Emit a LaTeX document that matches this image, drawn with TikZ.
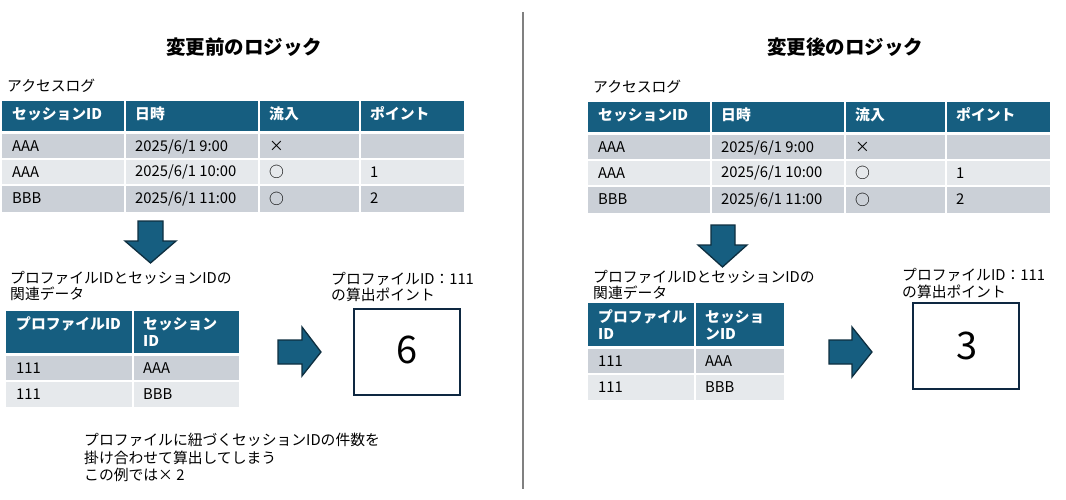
\documentclass[tikz,border=0pt]{standalone}
\usepackage{fontspec}
\setmainfont{Noto Sans CJK JP}
\definecolor{hdrblue}{HTML}{165E80}
\definecolor{rowdark}{HTML}{CBD0D7}
\definecolor{rowlight}{HTML}{E6E9EC}
\definecolor{arrowedge}{HTML}{0E2F40}
\definecolor{boxedge}{HTML}{0E2841}
\definecolor{divgray}{HTML}{808080}
\newcommand{\accesslogtable}{%
  \fill[hdrblue] (0,101) rectangle (462,131);
  \fill[rowdark] (0,134) rectangle (462,159);
  \fill[rowlight] (0,159) rectangle (462,185);
  \fill[rowdark] (0,185) rectangle (462,212);
  \foreach \cx in {123,257,358} {\draw[sep] (\cx,101) -- (\cx,212);}
  \draw[sep] (0,159) -- (462,159);
  \draw[sep] (0,185) -- (462,185);
  \node[hdr] (h1) at (10,114) {セッションID};
  \node[hdr] (h2) at (133,114) {日時};
  \node[hdr] (h3) at (267,114) {流入};
  \node[hdr] (h4) at (368,114) {ポイント};
  \node[txt] (a1) at (10,146.5) {AAA};
  \node[txt] (b1) at (133,146.5) {2025/6/1 9:00};
  \node[txt] (c1) at (267,146.5) {×};
  \node[txt] (a2) at (10,172) {AAA};
  \node[txt] (b2) at (133,172) {2025/6/1 10:00};
  \node[txt] (c2) at (267,172) {○};
  \node[txt] (d2) at (368,172) {1};
  \node[txt] (a3) at (10,198.5) {BBB};
  \node[txt] (b3) at (133,198.5) {2025/6/1 11:00};
  \node[txt] (c3) at (267,198.5) {○};
  \node[txt] (d3) at (368,198.5) {2};
}
\begin{document}
\begin{tikzpicture}[x=1pt,y=-1pt,
  txt/.style={anchor=west, inner sep=0pt, text=black, font=\fontsize{14.8}{16}\selectfont},
  hdr/.style={anchor=west, inner sep=0pt, text=white, font=\bfseries\fontsize{14.8}{16}\selectfont},
  titletxt/.style={inner sep=0pt, text=black, font=\bfseries\fontsize{19.5}{22}\selectfont},
  bignum/.style={inner sep=0pt, text=black, font=\fontsize{38}{40}\selectfont},
  blockarrow/.style={fill=hdrblue, draw=arrowedge, line width=1.3pt, line join=miter},
  resbox/.style={draw=boxedge, line width=2.2pt, fill=white},
  sep/.style={white, line width=1.6pt}]
\useasboundingbox (0,0) rectangle (1066,500);
\fill[white] (0,0) rectangle (1066,500);

% divider
\draw[divgray, line width=2pt] (522.5,12) -- (522.5,489);

% titles
\node[titletxt] (titleL) at (244,47) {変更前のロジック};
\node[titletxt] (titleR) at (845,47) {変更後のロジック};

% access log labels
\node[txt] (logL) at (7,86) {アクセスログ};
\node[txt] (logR) at (593,87) {アクセスログ};

% access log tables
\begin{scope}[shift={(2,0)}, name prefix=L-]
  \accesslogtable
\end{scope}
\begin{scope}[shift={(588,1)}, name prefix=R-]
  \accesslogtable
\end{scope}

% down arrows
\draw[blockarrow] (138,221) -- (163,221) -- (163,241) -- (176,241) -- (150.5,263) -- (125,241) -- (138,241) -- cycle;
\draw[blockarrow] (711,225) -- (735,225) -- (735,245) -- (747,245) -- (722.5,267) -- (698,245) -- (711,245) -- cycle;

% relation labels
\node[txt] (relL1) at (10,278) {プロファイルIDとセッションIDの};
\node[txt] (relL2) at (10,294) {関連データ};
\node[txt] (relR1) at (593,277) {プロファイルIDとセッションIDの};
\node[txt] (relR2) at (593,293) {関連データ};

% relation table left
\fill[hdrblue] (6,311) rectangle (239,353);
\fill[rowdark] (6,356) rectangle (239,381);
\fill[rowlight] (6,381) rectangle (239,407);
\draw[sep] (133,311) -- (133,407);
\draw[sep] (6,381) -- (239,381);
\node[hdr] (tLh1) at (16,324) {プロファイルID};
\node[hdr] (tLh2a) at (143,324) {セッション};
\node[hdr] (tLh2b) at (143,341) {ID};
\node[txt] (tLa1) at (16,368.5) {111};
\node[txt] (tLb1) at (143,368.5) {AAA};
\node[txt] (tLa2) at (16,394) {111};
\node[txt] (tLb2) at (143,394) {BBB};

% relation table right
\fill[hdrblue] (588,303) rectangle (784,346);
\fill[rowdark] (588,349) rectangle (784,374);
\fill[rowlight] (588,374) rectangle (784,400);
\draw[sep] (695,303) -- (695,400);
\draw[sep] (588,374) -- (784,374);
\node[hdr] (tRh1a) at (598,317) {プロファイル};
\node[hdr] (tRh1b) at (598,334) {ID};
\node[hdr] (tRh2a) at (705,317) {セッショ};
\node[hdr] (tRh2b) at (705,334) {ンID};
\node[txt] (tRa1) at (598,361.5) {111};
\node[txt] (tRb1) at (705,361.5) {AAA};
\node[txt] (tRa2) at (598,387) {111};
\node[txt] (tRb2) at (705,387) {BBB};

% right arrows
\draw[blockarrow] (278,340) -- (302,340) -- (302,327) -- (321,352) -- (302,376) -- (302,364) -- (278,364) -- cycle;
\draw[blockarrow] (829,340) -- (852,340) -- (852,327) -- (872,352) -- (852,377) -- (852,364) -- (829,364) -- cycle;

% result labels
\node[txt] (resL1) at (331,279) {プロファイルID：111};
\node[txt] (resL2) at (331,295) {の算出ポイント};
\node[txt] (resR1) at (902,275) {プロファイルID：111};
\node[txt] (resR2) at (902,292) {の算出ポイント};

% result boxes
\draw[resbox] (354,309) rectangle (460,395);
\node[bignum] (numL) at (407,350) {6};
\draw[resbox] (913,303) rectangle (1019,389);
\node[bignum] (numR) at (967,346) {3};

% note
\node[txt] (note1) at (84,440) {プロファイルに紐づくセッションIDの件数を};
\node[txt] (note2) at (84,457.5) {掛け合わせて算出してしまう};
\node[txt] (note3) at (84,475) {この例では× 2};
\end{tikzpicture}
\end{document}
